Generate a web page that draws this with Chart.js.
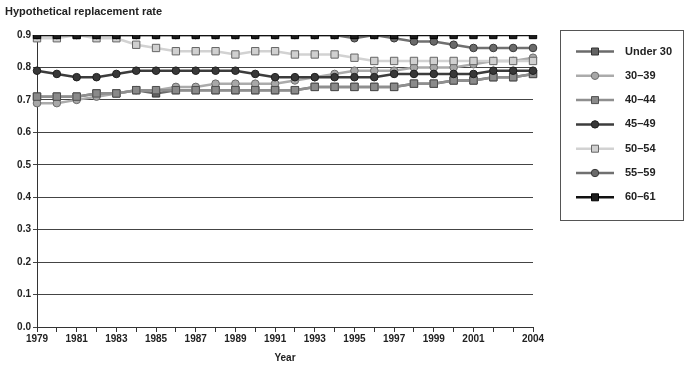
<!DOCTYPE html>
<html>
<head>
<meta charset="utf-8">
<script src="https://cdn.jsdelivr.net/npm/chart.js@4"></script>
<style>
  html, body { margin: 0; padding: 0; background: #fff; }
  #wrap { width: 699px; height: 366px; }
</style>
</head>
<body>
<div id="wrap"><canvas id="myChart" width="699" height="366"></canvas></div>
<script>
const years = [1979, 1980, 1981, 1982, 1983, 1984, 1985, 1986, 1987, 1988, 1989, 1990, 1991,
  1992, 1993, 1994, 1995, 1996, 1997, 1998, 1999, 2000, 2001, 2002, 2003, 2004];
const labeledYears = [1979, 1981, 1983, 1985, 1987, 1989, 1991, 1993, 1995, 1997, 1999, 2001, 2004];

const under30 = [0.71, 0.71, 0.71, 0.72, 0.72, 0.73, 0.72, 0.73, 0.73, 0.73, 0.73, 0.73, 0.73,
  0.73, 0.74, 0.74, 0.74, 0.74, 0.74, 0.75, 0.75, 0.76, 0.76, 0.77, 0.77, 0.78];
const age30to39 = [0.69, 0.69, 0.70, 0.71, 0.72, 0.73, 0.73, 0.74, 0.74, 0.75, 0.75, 0.75, 0.75,
  0.76, 0.77, 0.78, 0.79, 0.79, 0.79, 0.80, 0.80, 0.80, 0.81, 0.82, 0.82, 0.83];
const age40to44 = [0.71, 0.71, 0.71, 0.72, 0.72, 0.73, 0.73, 0.73, 0.73, 0.73, 0.73, 0.73, 0.73,
  0.73, 0.74, 0.74, 0.74, 0.74, 0.74, 0.75, 0.75, 0.76, 0.76, 0.77, 0.77, 0.78];
const age45to49 = [0.79, 0.78, 0.77, 0.77, 0.78, 0.79, 0.79, 0.79, 0.79, 0.79, 0.79, 0.78, 0.77,
  0.77, 0.77, 0.77, 0.77, 0.77, 0.78, 0.78, 0.78, 0.78, 0.78, 0.79, 0.79, 0.79];
const age50to54 = [0.89, 0.89, 0.90, 0.89, 0.89, 0.87, 0.86, 0.85, 0.85, 0.85, 0.84, 0.85, 0.85,
  0.84, 0.84, 0.84, 0.83, 0.82, 0.82, 0.82, 0.82, 0.82, 0.82, 0.82, 0.82, 0.82];
const age55to59 = [0.90, 0.90, 0.90, 0.90, 0.90, 0.90, 0.90, 0.90, 0.90, 0.90, 0.90, 0.90, 0.90,
  0.90, 0.90, 0.90, 0.89, 0.90, 0.89, 0.88, 0.88, 0.87, 0.86, 0.86, 0.86, 0.86];
const age60to61 = [0.90, 0.90, 0.90, 0.90, 0.90, 0.90, 0.90, 0.90, 0.90, 0.90, 0.90, 0.90, 0.90,
  0.90, 0.90, 0.90, 0.90, 0.90, 0.90, 0.90, 0.90, 0.90, 0.90, 0.90, 0.90, 0.90];

const seriesNames = ['Under 30', '30\u201339', '40\u201344', '45\u201349', '50\u201354', '55\u201359', '60\u201361'];
const seriesValues = [under30, age30to39, age40to44, age45to49, age50to54, age55to59, age60to61];

// line colour, marker fill, marker border, marker shape
const styles = [
  ['#6b6b6b', '#636363', '#333333', 'rect'],
  ['#ababab', '#a8a8a8', '#6c6c6c', 'circle'],
  ['#8f8f8f', '#8a8a8a', '#505050', 'rect'],
  ['#3c3c3c', '#383838', '#1e1e1e', 'circle'],
  ['#d2d2d2', '#d0d0d0', '#666666', 'rect'],
  ['#707070', '#6a6a6a', '#383838', 'circle'],
  ['#111111', '#1c1c1c', '#000000', 'rect'],
];

const FONT = "'Liberation Sans', Arial, sans-serif";

const datasets = seriesNames.map((name, i) => ({
  label: name,
  data: seriesValues[i],
  borderColor: styles[i][0],
  backgroundColor: styles[i][1],
  pointBackgroundColor: styles[i][1],
  pointBorderColor: styles[i][2],
  pointBorderWidth: 1,
  pointStyle: styles[i][3],
  pointRadius: styles[i][3] === 'rect' ? 5.2 : 3.8,
  borderWidth: 2.5,
  tension: 0,
  order: seriesNames.length - i,
}));

// boxed legend with a line through each marker
const boxLegend = {
  id: 'boxLegend',
  afterDraw(chart) {
    const ctx = chart.ctx;
    const left = 560.5, top = 30.5, w = 123, h = 190;
    ctx.save();
    ctx.strokeStyle = '#555';
    ctx.lineWidth = 1;
    ctx.strokeRect(left, top, w, h);
    chart.data.datasets.forEach((ds, i) => {
      const y = 51.5 + i * 24.3;
      ctx.strokeStyle = ds.borderColor;
      ctx.lineWidth = ds.borderWidth;
      ctx.beginPath();
      ctx.moveTo(576, y);
      ctx.lineTo(614, y);
      ctx.stroke();
      ctx.fillStyle = ds.pointBackgroundColor;
      ctx.strokeStyle = ds.pointBorderColor;
      ctx.lineWidth = 1;
      ctx.beginPath();
      if (ds.pointStyle === 'rect') {
        ctx.rect(595 - 3.5, y - 3.5, 7, 7);
      } else {
        ctx.arc(595, y, 3.7, 0, Math.PI * 2);
      }
      ctx.fill();
      ctx.stroke();
      ctx.fillStyle = '#222';
      ctx.font = 'bold 11px ' + FONT;
      ctx.textAlign = 'left';
      ctx.textBaseline = 'middle';
      ctx.fillText(ds.label, 625, y);
    });
    ctx.restore();
  }
};

new Chart(document.getElementById('myChart').getContext('2d'), {
  type: 'line',
  data: { labels: years, datasets: datasets },
  plugins: [boxLegend],
  options: {
    responsive: false,
    animation: false,
    layout: { padding: { left: 5, right: 166, top: 0, bottom: 0 } },
    plugins: {
      legend: { display: false },
      tooltip: { enabled: false },
      title: {
        display: true,
        text: 'Hypothetical replacement rate',
        align: 'start',
        color: '#222',
        font: { family: FONT, size: 11, weight: 'bold' },
        padding: { top: 5, bottom: 16.8 },
      },
    },
    scales: {
      x: {
        type: 'category',
        offset: false,
        grid: { drawOnChartArea: false, drawTicks: true, tickLength: 5, color: '#333' },
        border: { display: true, color: '#333' },
        ticks: {
          autoSkip: false,
          maxRotation: 0,
          padding: 1.5,
          color: '#222',
          font: { family: FONT, size: 10, weight: 'bold' },
          callback(value) {
            const yr = Number(this.getLabelForValue(value));
            return labeledYears.includes(yr) ? String(yr) : '';
          },
        },
        title: {
          display: true,
          text: 'Year',
          color: '#222',
          font: { family: FONT, size: 10, weight: 'bold' },
          padding: { top: 4, bottom: 2 },
        },
        afterFit(scale) { scale.height = 39; },
      },
      y: {
        min: 0,
        max: 0.9,
        grid: { color: '#444', lineWidth: 1, tickLength: 4, drawTicks: true },
        border: { display: true, color: '#333' },
        ticks: {
          stepSize: 0.1,
          padding: 2,
          color: '#222',
          font: { family: FONT, size: 10, weight: 'bold' },
          callback: (v) => Number(v).toFixed(1),
        },
        afterFit(scale) { scale.width = 32; },
      },
    },
  },
});
</script>
</body>
</html>
